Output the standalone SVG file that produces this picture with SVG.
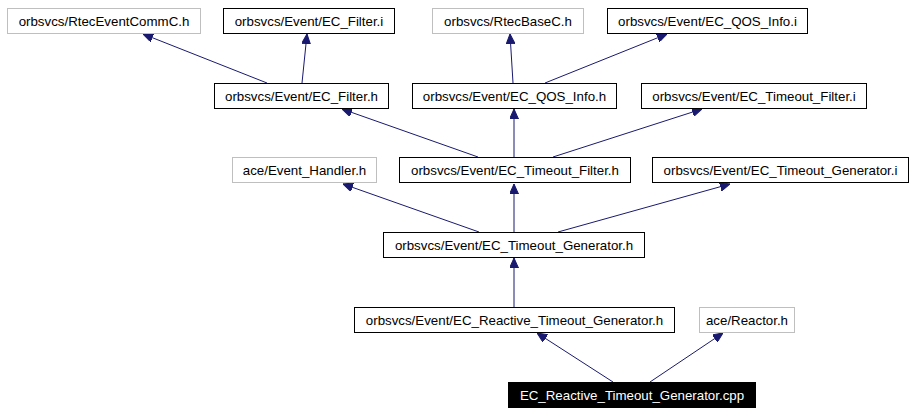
<svg xmlns="http://www.w3.org/2000/svg" width="915" height="413" viewBox="0 0 915 413">
<defs>
<style>
.n rect{fill:#ffffff;stroke:#000000;stroke-width:1}
.g rect{fill:#ffffff;stroke:#bfbfbf;stroke-width:1}
.r rect{fill:#000000;stroke:#000000;stroke-width:1}
text{font-family:"Liberation Sans",Arial,sans-serif;font-size:13.3px;text-anchor:middle;fill:#000000}
.r text{fill:#ffffff}
.e line{stroke:#191970;stroke-width:1;fill:none;marker-end:url(#ah)}
</style>
<marker id="ah" viewBox="0 0 10 9" refX="10" refY="4.5" markerWidth="10" markerHeight="9" markerUnits="userSpaceOnUse" orient="auto">
<path d="M0,0 L10,4.5 L0,9 Z" fill="#191970" stroke="#191970"/>
</marker>
</defs>
<rect width="915" height="413" fill="#ffffff"/>
<g id="edges" class="e">
<line x1="267" y1="83" x2="143" y2="34"/>
<line x1="302" y1="83" x2="307" y2="34"/>
<line x1="513" y1="83" x2="510" y2="34"/>
<line x1="545" y1="83" x2="667" y2="34"/>
<line x1="478" y1="157" x2="342" y2="109"/>
<line x1="514" y1="157" x2="514" y2="109"/>
<line x1="553" y1="157" x2="702" y2="109"/>
<line x1="479" y1="232" x2="343" y2="184"/>
<line x1="514" y1="232" x2="514" y2="184"/>
<line x1="558" y1="232" x2="730" y2="184"/>
<line x1="514" y1="307" x2="514" y2="258"/>
<line x1="613" y1="382" x2="537" y2="333"/>
<line x1="650" y1="382" x2="723" y2="333"/>
</g>
<g id="rtecEventCommC" class="g"><rect x="7.5" y="8.5" width="193" height="25"/><text x="104" y="25.5">orbsvcs/RtecEventCommC.h</text></g>
<g id="ecFilterI" class="n"><rect x="223.5" y="8.5" width="171" height="25"/><text x="309" y="25.5">orbsvcs/Event/EC_Filter.i</text></g>
<g id="rtecBaseC" class="g"><rect x="432.5" y="8.5" width="151" height="25"/><text x="508" y="25.5">orbsvcs/RtecBaseC.h</text></g>
<g id="ecQosInfoI" class="n"><rect x="607.5" y="8.5" width="200" height="25"/><text x="707.5" y="25.5">orbsvcs/Event/EC_QOS_Info.i</text></g>
<g id="ecFilterH" class="n"><rect x="214.5" y="83.5" width="174" height="25"/><text x="301.5" y="100.5">orbsvcs/Event/EC_Filter.h</text></g>
<g id="ecQosInfoH" class="n"><rect x="412.5" y="83.5" width="204" height="25"/><text x="514.5" y="100.5">orbsvcs/Event/EC_QOS_Info.h</text></g>
<g id="ecTimeoutFilterI" class="n"><rect x="641.5" y="83.5" width="225" height="25"/><text x="754" y="100.5">orbsvcs/Event/EC_Timeout_Filter.i</text></g>
<g id="eventHandler" class="g"><rect x="232.5" y="157.5" width="144" height="25"/><text x="304.5" y="174.5">ace/Event_Handler.h</text></g>
<g id="ecTimeoutFilterH" class="n"><rect x="399.5" y="157.5" width="231" height="25"/><text x="515" y="174.5">orbsvcs/Event/EC_Timeout_Filter.h</text></g>
<g id="ecTimeoutGeneratorI" class="n"><rect x="652.5" y="157.5" width="256" height="25"/><text x="780.5" y="174.5">orbsvcs/Event/EC_Timeout_Generator.i</text></g>
<g id="ecTimeoutGeneratorH" class="n"><rect x="383.5" y="232.5" width="261" height="25"/><text x="514" y="249.5">orbsvcs/Event/EC_Timeout_Generator.h</text></g>
<g id="ecReactiveTimeoutGeneratorH" class="n"><rect x="354.5" y="307.5" width="320" height="25"/><text x="514.5" y="324.5">orbsvcs/Event/EC_Reactive_Timeout_Generator.h</text></g>
<g id="reactor" class="g"><rect x="699.5" y="307.5" width="95" height="25"/><text x="747" y="324.5">ace/Reactor.h</text></g>
<g id="ecReactiveTimeoutGeneratorCpp" class="r"><rect x="508.5" y="382.5" width="247" height="25"/><text x="632" y="399.5">EC_Reactive_Timeout_Generator.cpp</text></g>
</svg>
